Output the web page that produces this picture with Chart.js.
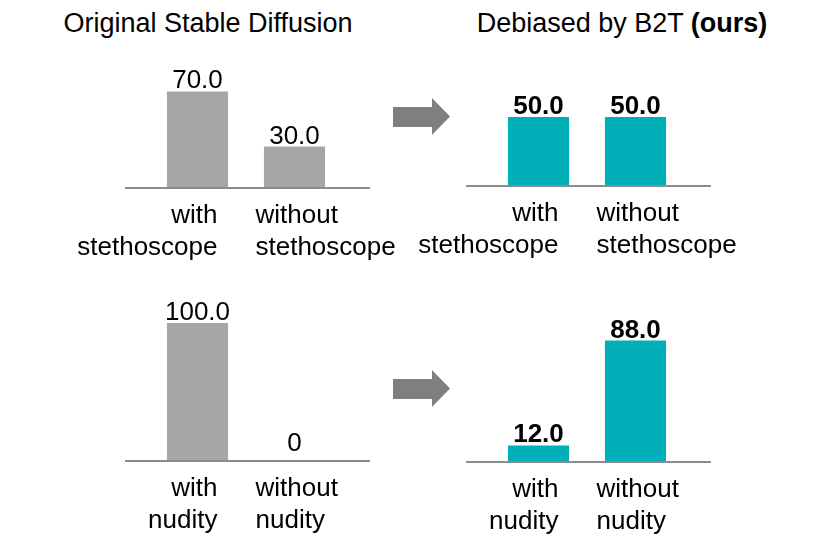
<!DOCTYPE html>
<html>
<head>
<meta charset="utf-8">
<script src="https://cdn.jsdelivr.net/npm/chart.js@4.4.1/dist/chart.umd.min.js"></script>
<style>
    body { margin: 0; background: #ffffff; }
    #page { position: relative; width: 830px; height: 554px; overflow: hidden; font-family: "Liberation Sans", Arial, sans-serif; }
    #page canvas { position: absolute; }
    .title { position: absolute; top: 8px; font-size: 27px; color: #000; white-space: nowrap; transform: translateX(-50%); }
    .arrow { position: absolute; }
</style>
</head>
<body>
<div id="page">
    <div class="title" style="left: 208px;">Original Stable Diffusion</div>
    <div class="title" style="left: 622px;">Debiased by B2T <b>(ours)</b></div>
    <svg class="arrow" style="left: 390px; top: 95px;" width="64" height="44">
        <polygon points="3,12 42,12 42,3 60,21.5 42,40 42,32 3,32" fill="#7f7f7f"/>
    </svg>
    <svg class="arrow" style="left: 390px; top: 367px;" width="64" height="44">
        <polygon points="3,12 42,12 42,3 60,21.5 42,40 42,32 3,32" fill="#7f7f7f"/>
    </svg>
    <canvas id="stethoscopeOriginalChart" width="340" height="258" style="left: 60px; top: 10px;"></canvas>
    <canvas id="stethoscopeB2TChart" width="340" height="258" style="left: 401px; top: 8px;"></canvas>
    <canvas id="nudityOriginalChart" width="340" height="258" style="left: 60px; top: 283px;"></canvas>
    <canvas id="nudityB2TChart" width="340" height="258" style="left: 401px; top: 284px;"></canvas>
</div>
<script>
// data
const stethoscopeLabels = [['with', 'stethoscope'], ['without', 'stethoscope']];
const nudityLabels = [['with', 'nudity'], ['without', 'nudity']];
const stethoscopeOriginal = [70.0, 30.0];
const stethoscopeB2T = [50.0, 50.0];
const nudityOriginal = [100.0, 0];
const nudityB2T = [12.0, 88.0];

const grayBar = '#a6a6a6';
const tealBar = '#00afb7';
const fontFamily = '"Liberation Sans", Arial, sans-serif';

// value on top of each bar, category text under the axis line
const barTextPlugin = {
    id: 'barText',
    afterDatasetsDraw(chart, args, opts) {
        let ctx = chart.ctx;
        let xScale = chart.scales.x;
        let yScale = chart.scales.y;
        let axisY = yScale.getPixelForValue(0);
        let area = chart.chartArea;

        // axis line
        ctx.save();
        ctx.strokeStyle = '#8c8c8c';
        ctx.lineWidth = 2;
        ctx.beginPath();
        ctx.moveTo(area.left - 24, axisY);
        ctx.lineTo(area.right + 27, axisY);
        ctx.stroke();

        // values
        let values = chart.data.datasets[0].data;
        let bars = chart.getDatasetMeta(0).data;
        ctx.fillStyle = '#000';
        ctx.textAlign = 'center';
        ctx.textBaseline = 'alphabetic';
        ctx.font = (opts.bold ? 'bold ' : '') + '26px ' + fontFamily;
        bars.forEach(function(bar, i) {
            let v = values[i];
            let text = v === 0 ? '0' : v.toFixed(1);
            ctx.fillText(text, bar.x, Math.min(bar.y - 3, axisY - 10));
        });

        // category labels
        ctx.font = '26px ' + fontFamily;
        chart.data.labels.forEach(function(lines, i) {
            let cx = xScale.getPixelForValue(i);
            let tx = i === 0 ? cx + 20 : cx - 39;
            ctx.textAlign = i === 0 ? 'right' : 'left';
            lines.forEach(function(line, k) {
                ctx.fillText(line, tx, axisY + 35 + k * 32);
            });
        });
        ctx.restore();
    }
};

function makeBarChart(canvasId, labels, values, color, bold) {
    //bar
    let ctx = document.getElementById(canvasId).getContext('2d');
    return new Chart(ctx, {
        type: 'bar',
        data: {
            labels: labels,
            datasets: [{
                data: values,
                backgroundColor: color,
                borderWidth: 0,
                categoryPercentage: 1,
                barPercentage: 0.63
            }]
        },
        options: {
            responsive: false,
            animation: false,
            layout: { padding: { left: 89, right: 57, top: 40, bottom: 80 } },
            scales: {
                x: { display: false },
                y: { display: false, min: 0, max: 100 }
            },
            plugins: {
                legend: { display: false },
                tooltip: { enabled: false },
                barText: { bold: bold }
            }
        },
        plugins: [barTextPlugin]
    });
}

makeBarChart('stethoscopeOriginalChart', stethoscopeLabels, stethoscopeOriginal, grayBar, false);
makeBarChart('stethoscopeB2TChart', stethoscopeLabels, stethoscopeB2T, tealBar, true);
makeBarChart('nudityOriginalChart', nudityLabels, nudityOriginal, grayBar, false);
makeBarChart('nudityB2TChart', nudityLabels, nudityB2T, tealBar, true);
</script>
</body>
</html>
